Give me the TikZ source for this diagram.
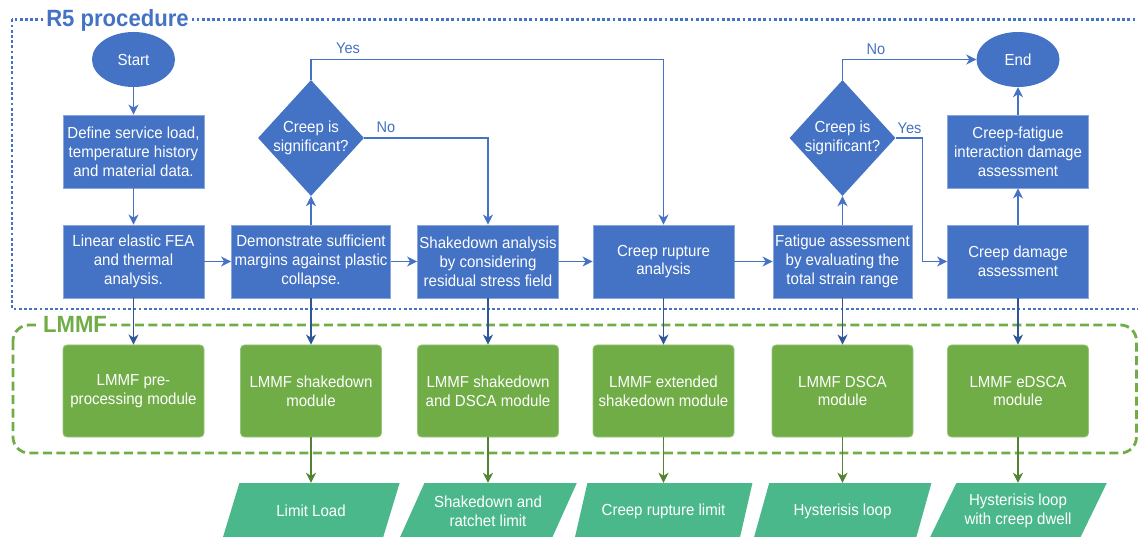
\documentclass[tikz,border=0pt]{standalone}
\usepackage{fontspec}
\setmainfont{Liberation Sans}[FakeStretch=0.94]
\usetikzlibrary{shapes.geometric,arrows.meta}

\definecolor{procblue}{HTML}{4472C4}
\definecolor{procedge}{HTML}{8AA6DC}
\definecolor{deepblue}{HTML}{2F5597}
\definecolor{modgreen}{HTML}{70AD47}
\definecolor{modedge}{HTML}{95C47A}
\definecolor{outgreen}{HTML}{4BB88C}
\definecolor{olivegreen}{HTML}{548235}

\begin{document}
\begin{tikzpicture}[x=1pt,y=-1pt,
  every node/.style={font=\fontsize{16}{18.8}\selectfont, text=white, align=center, inner sep=0pt},
  proc/.style={rectangle, fill=procblue, draw=procedge, line width=0.8pt,
               minimum width=141pt, minimum height=73pt},
  term/.style={ellipse, fill=procblue, minimum width=83pt, minimum height=55pt},
  decide/.style={diamond, fill=procblue, minimum width=106pt, minimum height=116pt},
  module/.style={rectangle, rounded corners=4pt, fill=modgreen, draw=modedge, line width=0.8pt,
                 minimum width=141pt, minimum height=92pt},
  result/.style={trapezium, trapezium left angle=55, trapezium right angle=125,
                 trapezium stretches=true, fill=outgreen,
                 minimum width=178pt, minimum height=56pt},
  lbl/.style={text=procblue, font=\fontsize{15.5}{18}\selectfont},
  tip/.style={-{Stealth[length=10pt,width=10pt,inset=3pt]}},
  flow/.style={draw=procblue, line width=1.9pt, tip},
  tomodule/.style={draw=deepblue, line width=1.9pt, tip},
  toresult/.style={draw=olivegreen, line width=1.9pt, tip},
  frametitle/.style={fill=white, font=\bfseries\fontsize{23.5}{28}\selectfont, inner xsep=3pt, inner ysep=1pt}
]
\useasboundingbox (0,0) rectangle (1138,537);

% ---- frames ----
\draw[procblue, line width=2.8pt, dash pattern=on 2.8pt off 2.4pt] (12,19.5) rectangle (1150,309);
\node[frametitle, text=procblue, anchor=base] (r5title) at (117.5,27) {R5 procedure};

\draw[modgreen, line width=2.8pt, dash pattern=on 9pt off 4.5pt, rounded corners=16pt]
  (13,325) rectangle (1136.5,453);
\node[frametitle, text=modgreen, anchor=base west] (lmmftitle) at (40,333) {LMMF};

% ---- R5 procedure ----
\node[term] (start) at (133.5,59.5) {Start};
\node[proc] (define) at (133.5,151.5) {Define service load,\\temperature history\\and material data.};
\node[proc] (linear) at (133.5,261.5) {Linear elastic FEA\\and thermal\\analysis.};
\node[proc, minimum width=159pt] (demo) at (311,261.5) {Demonstrate sufficient\\margins against plastic\\collapse.};
\node[decide, label={center:Creep is\\significant?}] (dec1) at (311,138) {};
\node[proc] (shake) at (488,261.5) {Shakedown analysis\\by considering\\residual stress field};
\node[proc] (rupture) at (663.5,261.5) {Creep rupture\\analysis};
\node[proc, minimum width=139pt] (fatigue) at (842.5,261.5) {Fatigue assessment\\by evaluating the\\total strain range};
\node[decide, label={center:Creep is\\significant?}] (dec2) at (842.5,138) {};
\node[proc] (damage) at (1018,261.5) {Creep damage\\assessment};
\node[proc] (cfia) at (1018,151.5) {Creep-fatigue\\interaction damage\\assessment};
\node[term] (end) at (1018,59.5) {End};
\coordinate (yesdrop) at (922.5,138);

% ---- LMMF modules ----
\node[module] (m1) at (133.5,391) {LMMF pre-\\processing module};
\node[module] (m2) at (311,391) {LMMF shakedown\\module};
\node[module] (m3) at (488,391) {LMMF shakedown\\and DSCA module};
\node[module] (m4) at (663.5,391) {LMMF extended\\shakedown module};
\node[module] (m5) at (842.5,391) {LMMF DSCA\\module};
\node[module] (m6) at (1018,391) {LMMF eDSCA\\module};

% ---- results ----
\node[result] (o2) at (311,511) {Limit Load};
\node[result] (o3) at (488,511) {Shakedown and\\ratchet limit};
\node[result] (o4) at (663.5,511) {Creep rupture limit};
\node[result] (o5) at (842.5,511) {Hysterisis loop};
\node[result] (o6) at (1018,511) {Hysterisis loop\\with creep dwell};

% ---- procedure flow ----
\draw[flow] (start) -- (define);
\draw[flow] (define) -- (linear);
\draw[flow] (linear) -- (demo);
\draw[flow] (demo) -- (dec1);
\draw[flow] (dec1.north) -- (dec1.north |- start) -| (rupture.north);
\draw[flow] (dec1.east) -| (shake.north);
\draw[flow] (demo) -- (shake);
\draw[flow] (shake) -- (rupture);
\draw[flow] (rupture) -- (fatigue);
\draw[flow] (fatigue) -- (dec2);
\draw[flow] (dec2.north) |- (end.west);
\draw[flow] (dec2.east) -- (yesdrop) |- (damage.west);
\draw[flow] (damage) -- (cfia);
\draw[flow] (cfia) -- (end);

\node[lbl] (yes1) at (348,48) {Yes};
\node[lbl] (no1) at (386,127.5) {No};
\node[lbl] (no2) at (876,49) {No};
\node[lbl] (yes2) at (909.5,128) {Yes};

% ---- procedure to modules ----
\draw[tomodule] (linear) -- (m1);
\draw[tomodule] (demo) -- (m2);
\draw[tomodule] (shake) -- (m3);
\draw[tomodule] (rupture) -- (m4);
\draw[tomodule] (fatigue) -- (m5);
\draw[tomodule] (damage) -- (m6);

% ---- modules to results ----
\draw[toresult] (m2) -- (o2);
\draw[toresult] (m3) -- (o3);
\draw[toresult] (m4) -- (o4);
\draw[toresult] (m5) -- (o5);
\draw[toresult] (m6) -- (o6);
\end{tikzpicture}
\end{document}
